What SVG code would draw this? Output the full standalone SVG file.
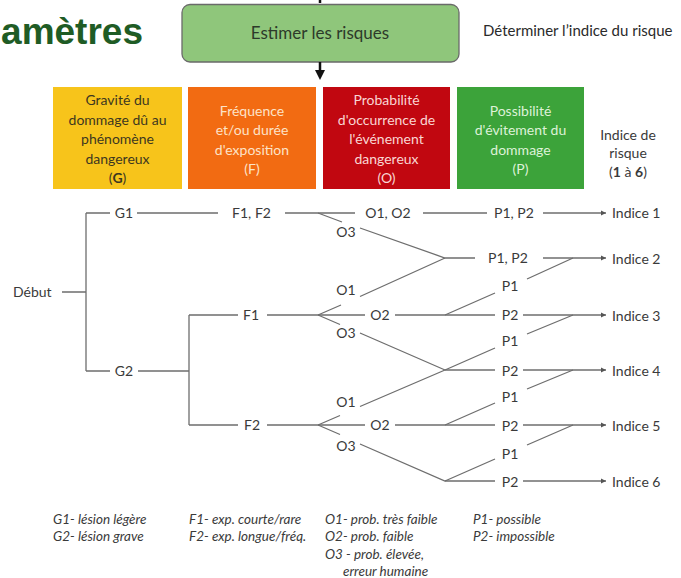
<svg xmlns="http://www.w3.org/2000/svg" width="681" height="578" viewBox="0 0 681 578">
<style>
text{font-family:Lato,"Open Sans","Liberation Sans",sans-serif;}
.t{font-size:14px;fill:#3a3a3a;}
.c{text-anchor:middle;}
.hd{font-size:14px;text-anchor:middle;}
.lg{font-size:13.5px;font-style:italic;fill:#3a3a3a;}
.ln{stroke:#6e6e6e;stroke-width:1.3;fill:none;}
.ar{marker-end:url(#ah);}
</style>
<defs>
<marker id="ah" markerWidth="6" markerHeight="6" refX="5" refY="3" orient="auto" markerUnits="userSpaceOnUse">
<path d="M0,0.6 L5,3 L0,5.4 Z" fill="#555"/>
</marker>
</defs>
<rect width="681" height="578" fill="#ffffff"/>

<g id="title"><text x="143" y="44" text-anchor="end" style="font-family:'Liberation Sans',Arial,sans-serif;font-weight:bold;font-size:37px;fill:#1f5c25">amètres</text></g>

<g id="estimer">
<path d="M320,0 V3" stroke="#111" stroke-width="2.5"/>
<rect x="182" y="4.5" width="277" height="57.5" rx="8" fill="#8fc67b" stroke="#6a6a6a" stroke-width="1.3"/>
<text x="320" y="39" class="c" style="font-size:17px;fill:#2d3a2a">Estimer les risques</text>
<path d="M320,62 V72" stroke="#111" stroke-width="2.5"/>
<path d="M315,70 L325,70 L320,80 Z" fill="#111"/>
</g>
<g id="determiner"><text x="483" y="36" style="font-size:15px;fill:#2a2a2a">Déterminer l’indice du risque</text></g>

<g id="box-G">
<rect x="53" y="87" width="129" height="102" fill="#f7c41b"/>
<text class="hd" style="fill:#3d3720" x="117.5" y="105">Gravité du</text>
<text class="hd" style="fill:#3d3720" x="117.5" y="124.5">dommage dû au</text>
<text class="hd" style="fill:#3d3720" x="117.5" y="144">phénomène</text>
<text class="hd" style="fill:#3d3720" x="117.5" y="163.5">dangereux</text>
<text class="hd" style="fill:#3d3720" x="117.5" y="183">(<tspan font-weight="bold">G</tspan>)</text>
</g>
<g id="box-F">
<rect x="188" y="87" width="128" height="102" fill="#f26b12"/>
<text class="hd" style="fill:#fde3c8" x="252" y="116">Fréquence</text>
<text class="hd" style="fill:#fde3c8" x="252" y="135">et/ou durée</text>
<text class="hd" style="fill:#fde3c8" x="252" y="154.5">d'exposition</text>
<text class="hd" style="fill:#fde3c8" x="252" y="174">(F)</text>
</g>
<g id="box-O">
<rect x="323" y="87" width="127" height="102" fill="#c10710"/>
<text class="hd" style="fill:#f9d6d3" x="386.5" y="105">Probabilité</text>
<text class="hd" style="fill:#f9d6d3" x="386.5" y="124.5">d'occurrence de</text>
<text class="hd" style="fill:#f9d6d3" x="386.5" y="144">l'événement</text>
<text class="hd" style="fill:#f9d6d3" x="386.5" y="163.5">dangereux</text>
<text class="hd" style="fill:#f9d6d3" x="386.5" y="183">(O)</text>
</g>
<g id="box-P">
<rect x="457" y="87" width="127" height="102" fill="#3ca33a"/>
<text class="hd" style="fill:#def2d8" x="520.5" y="116">Possibilité</text>
<text class="hd" style="fill:#def2d8" x="520.5" y="135">d'évitement du</text>
<text class="hd" style="fill:#def2d8" x="520.5" y="154.5">dommage</text>
<text class="hd" style="fill:#def2d8" x="520.5" y="174">(P)</text>
</g>
<g id="indice-header">
<text class="hd" style="fill:#3a3a3a" x="628" y="140">Indice de</text>
<text class="hd" style="fill:#3a3a3a" x="628" y="158">risque</text>
<text class="hd" style="fill:#3a3a3a" x="628" y="177">(<tspan font-weight="bold">1</tspan> à <tspan font-weight="bold">6</tspan>)</text>
</g>

<g id="connectors">
<path class="ln" d="M62,292 H86 M86,213 V371"/>
<path class="ln" d="M86,213 H110 M137,213 H218 M285,213 H355 M423,213 H487"/>
<path class="ln ar" d="M543,213 H606"/>
<path class="ln" d="M318,213 L342,222 M360,228 L445,258 H475"/>
<path class="ln ar" d="M543,258 H606"/>
<path class="ln" d="M86,371 H110 M138,371 H189 M189,315 V425"/>
<path class="ln" d="M189,315 H238 M267,315 H365 M395,315 H495"/>
<path class="ln ar" d="M523,315 H606"/>
<path class="ln" d="M318,315 L341,305 M360,296.5 L445,258"/>
<path class="ln" d="M445,315 L495,293 M527,279 L573,258"/>
<path class="ln" d="M318,315 L340,324.5 M360,333 L445,370"/>
<path class="ln" d="M318,425 L340,415.5 M360,406.5 L445,370"/>
<path class="ln" d="M445,370 L495,348 M527,334 L573,315"/>
<path class="ln" d="M445,370 H495"/>
<path class="ln ar" d="M523,370 H606"/>
<path class="ln" d="M189,425 H238 M267,425 H365 M395,425 H495"/>
<path class="ln" d="M445,425 L495,403 M527,389 L573,370"/>
<path class="ln ar" d="M523,425 H606"/>
<path class="ln" d="M318,425 L340,434.5 M360,444 L445,481 H495"/>
<path class="ln" d="M445,481 L495,459 M527,445 L573,425"/>
<path class="ln ar" d="M523,481 H606"/>
</g>

<g id="debut"><text class="t" x="13" y="297">Début</text></g>
<g id="g1"><text class="t c" x="124" y="218">G1</text></g>
<g id="g2"><text class="t c" x="124" y="376">G2</text></g>
<g id="f1f2"><text class="t c" x="251.5" y="218">F1, F2</text></g>
<g id="f1"><text class="t c" x="251" y="320">F1</text></g>
<g id="f2"><text class="t c" x="252" y="430">F2</text></g>
<g id="o1o2"><text class="t c" x="388" y="218">O1, O2</text></g>
<g id="o3-a"><text class="t c" x="346" y="237">O3</text></g>
<g id="o1-b"><text class="t c" x="346" y="295">O1</text></g>
<g id="o2-b"><text class="t c" x="380" y="320">O2</text></g>
<g id="o3-b"><text class="t c" x="346" y="338">O3</text></g>
<g id="o1-c"><text class="t c" x="346" y="407">O1</text></g>
<g id="o2-c"><text class="t c" x="380" y="430">O2</text></g>
<g id="o3-c"><text class="t c" x="346" y="451">O3</text></g>
<g id="p1p2-a"><text class="t c" x="514" y="218">P1, P2</text></g>
<g id="p1p2-b"><text class="t c" x="508" y="263">P1, P2</text></g>
<g id="p1-b"><text class="t c" x="510" y="291">P1</text></g>
<g id="p2-b"><text class="t c" x="510" y="320">P2</text></g>
<g id="p1-c"><text class="t c" x="510" y="346">P1</text></g>
<g id="p2-c"><text class="t c" x="510" y="376">P2</text></g>
<g id="p1-d"><text class="t c" x="510" y="402">P1</text></g>
<g id="p2-d"><text class="t c" x="510" y="431">P2</text></g>
<g id="p1-e"><text class="t c" x="510" y="459">P1</text></g>
<g id="p2-e"><text class="t c" x="510" y="487">P2</text></g>
<g id="indice1"><text class="t" x="612" y="218">Indice 1</text></g>
<g id="indice2"><text class="t" x="612" y="264">Indice 2</text></g>
<g id="indice3"><text class="t" x="612" y="321">Indice 3</text></g>
<g id="indice4"><text class="t" x="612" y="376">Indice 4</text></g>
<g id="indice5"><text class="t" x="612" y="431">Indice 5</text></g>
<g id="indice6"><text class="t" x="612" y="487">Indice 6</text></g>

<g id="legend">
<text class="lg" x="53" y="524">G1- lésion légère</text>
<text class="lg" x="53" y="541">G2- lésion grave</text>
<text class="lg" x="189" y="524">F1- exp. courte/rare</text>
<text class="lg" x="189" y="541">F2- exp. longue/fréq.</text>
<text class="lg" x="325" y="524">O1- prob. très faible</text>
<text class="lg" x="325" y="541">O2- prob. faible</text>
<text class="lg" x="325" y="559">O3 - prob. élevée,</text>
<text class="lg" x="343" y="576">erreur humaine</text>
<text class="lg" x="473" y="524">P1- possible</text>
<text class="lg" x="473" y="541">P2- impossible</text>
</g>
</svg>
